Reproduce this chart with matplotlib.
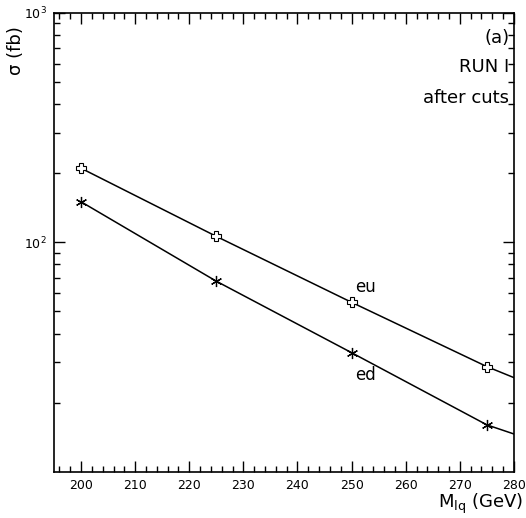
import numpy as np
import matplotlib
matplotlib.use("Agg")
import matplotlib.pyplot as plt
from matplotlib.ticker import MultipleLocator, LogLocator, NullFormatter

# masses (GeV) and cross sections (fb)
mass = [200, 225, 250, 275]
sigma_eu = [210, 106, 54.7, 28.7]
sigma_ed = [150, 67.6, 33.0, 16.0]

# curves run on to the right edge of the frame
mass_line = [200, 225, 250, 275, 280]
eu_line = [210, 106, 54.7, 28.7, 25.7]
ed_line = [150, 67.6, 33.0, 16.0, 14.6]

plt.rcParams['font.family'] = ['DejaVu Sans']

fig = plt.figure(figsize=(5.26, 5.18), dpi=100)
ax = fig.add_axes([0.1027, 0.0894, 0.8743, 0.8861])

ax.plot(mass_line, eu_line, color='black', lw=1.1)
ax.plot(mass_line, ed_line, color='black', lw=1.1)
ax.plot(mass, sigma_eu, ls='none', marker='P', ms=7, mfc='white', mec='black', mew=0.8)
ax.plot(mass, sigma_ed, ls='none', marker=(6, 2, 0), ms=8, mec='black', mew=0.9)

ax.set_yscale('log')
ax.set_xlim(195, 280)
ax.set_ylim(10, 1000)

ax.xaxis.set_major_locator(MultipleLocator(10))
ax.xaxis.set_minor_locator(MultipleLocator(2))
ax.set_yticks([100, 1000])
ax.yaxis.set_minor_locator(LogLocator(base=10, subs=np.arange(2, 10)))
ax.yaxis.set_minor_formatter(NullFormatter())

ax.tick_params(which='both', direction='in', top=True, right=True, width=1.0, labelsize=9)
ax.tick_params(which='major', length=8, pad=5)
ax.tick_params(which='minor', length=4)
for s in ax.spines.values():
    s.set_linewidth(1.2)

ax.text(250.6, 63.6, 'eu', fontsize=12, ha='left', va='center')
ax.text(250.6, 26.5, 'ed', fontsize=12, ha='left', va='center')

ax.text(0.99, 0.945, '(a)', transform=ax.transAxes, fontsize=13, ha='right', va='center')
ax.text(0.99, 0.882, 'RUN I', transform=ax.transAxes, fontsize=13, ha='right', va='center')
ax.text(0.99, 0.815, 'after cuts', transform=ax.transAxes, fontsize=13, ha='right', va='center')

fig.text(16 / 526, 1 - 51 / 518, '\u03c3 (fb)', rotation=90, fontsize=13, ha='center', va='center')
fig.text(523 / 526, 1 - 504 / 518, r'M$_{\mathregular{lq}}$ (GeV)', fontsize=13, ha='right', va='center')

fig.savefig('out.png', dpi=100)
